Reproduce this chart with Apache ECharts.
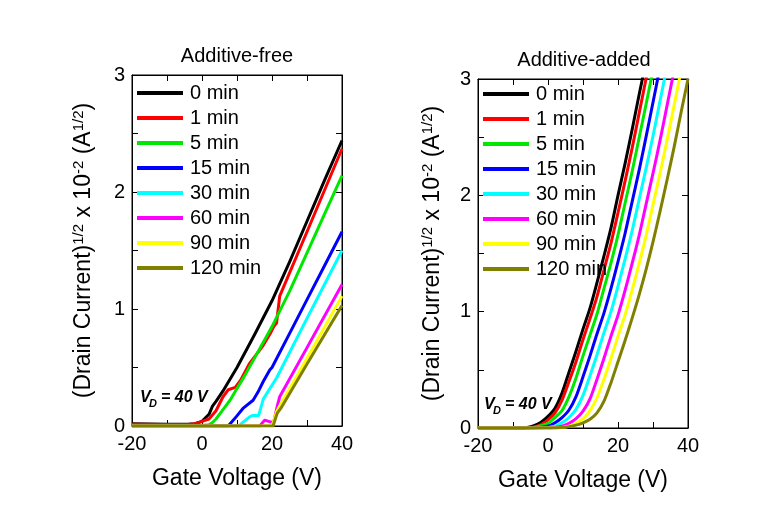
<!DOCTYPE html>
<html>
<head>
<meta charset="utf-8">
<script src="https://cdn.jsdelivr.net/npm/echarts@6/dist/echarts.min.js"></script>
<style>
html,body{margin:0;padding:0;background:#fff;}
#chart{width:778px;height:517px;}
</style>
</head>
<body>
<div id="chart"></div>
<script>
// ---------- data ----------
const seriesNames = ['0 min', '1 min', '5 min', '15 min', '30 min', '60 min', '90 min', '120 min'];
const panelTitles = ['Additive-free', 'Additive-added'];
const xTicks = { min: -20, max: 40, step: 20 };
const yTicks = { min: 0, max: 3, step: 1 };

// Additive-free (left panel): gate voltage (V) and sqrt drain current
const freeX_0 = [-20, -10, -4, -2, 0, 1, 2, 3, 4, 6, 8, 10, 15, 20, 25, 30, 35, 40];
const freeY_0 = [0.02, 0.015, 0.015, 0.02, 0.04, 0.07, 0.1, 0.17, 0.21, 0.3, 0.4, 0.5, 0.78, 1.07, 1.4, 1.75, 2.1, 2.44];
const freeX_1 = [-20, -10, -4, -2, 0, 2, 4, 6, 7.5, 9.5, 11, 13.5, 15.5, 17.5, 19.5, 20.5, 21.3, 22.2, 30, 40];
const freeY_1 = [0.015, 0.012, 0.012, 0.02, 0.04, 0.06, 0.13, 0.25, 0.31, 0.33, 0.39, 0.53, 0.61, 0.69, 0.79, 0.85, 0.88, 1.11, 1.66, 2.37];
const freeX_5 = [-20, 0, 2, 3, 4, 6, 8, 10, 12, 15, 20, 25, 30, 35, 40];
const freeY_5 = [0.005, 0.005, 0.01, 0.03, 0.06, 0.14, 0.22, 0.32, 0.42, 0.58, 0.85, 1.15, 1.48, 1.81, 2.14];
const freeX_15 = [-20, 7.5, 9.8, 11.7, 14.6, 16, 17.5, 19.4, 20, 25, 30, 35, 40];
const freeY_15 = [0, 0, 0.08, 0.15, 0.22, 0.29, 0.38, 0.48, 0.5, 0.79, 1.08, 1.37, 1.66];
const freeX_30 = [-20, 10.5, 12, 13.7, 14.5, 16.2, 17.5, 19.4, 21.3, 30, 40];
const freeY_30 = [0, 0, 0.04, 0.08, 0.09, 0.09, 0.23, 0.32, 0.41, 0.92, 1.5];
const freeX_60 = [-20, 16.5, 17.9, 19.5, 20.5, 21.5, 22.2, 30, 40];
const freeY_60 = [0, 0, 0.05, 0.035, 0.035, 0.17, 0.25, 0.67, 1.21];
const freeX_90 = [-20, 20, 21.3, 22, 30, 40];
const freeY_90 = [0, 0, 0.12, 0.16, 0.58, 1.11];
const freeX_120 = [-20, 20.3, 21.5, 22.5, 30, 40];
const freeY_120 = [0, 0, 0.11, 0.15, 0.53, 1.03];

// Additive-added (right panel)
const addedX = [-20, -16, -12, -8, -6, -4, -2, 0, 2, 4, 6, 8, 10, 12, 14, 16, 18, 20, 22, 24, 26, 28, 30, 32, 34, 36, 38, 40];
const addedY_0 = [0, 0, 0, 0, 0.005, 0.02, 0.05, 0.1, 0.17, 0.3, 0.48, 0.66, 0.85, 1.03, 1.25, 1.48, 1.72, 2.0, 2.27, 2.56, 2.86, 3.15, null, null, null, null, null, null];
const addedY_1 = [0, 0, 0, 0, 0.002, 0.01, 0.03, 0.07, 0.13, 0.24, 0.4, 0.57, 0.76, 0.94, 1.13, 1.36, 1.59, 1.85, 2.12, 2.4, 2.7, 3.0, 3.3, null, null, null, null, null];
const addedY_5 = [0, 0, 0, 0, 0, 0.005, 0.02, 0.04, 0.09, 0.15, 0.27, 0.43, 0.62, 0.8, 0.98, 1.2, 1.42, 1.66, 1.93, 2.2, 2.49, 2.78, 3.08, null, null, null, null, null];
const addedY_15 = [0, 0, 0, 0, 0, 0, 0.004, 0.015, 0.045, 0.09, 0.155, 0.27, 0.44, 0.62, 0.81, 0.99, 1.2, 1.43, 1.67, 1.94, 2.21, 2.5, 2.8, 3.1, null, null, null, null];
const addedY_30 = [0, 0, 0, 0, 0, 0, 0, 0.004, 0.015, 0.045, 0.09, 0.16, 0.28, 0.45, 0.63, 0.82, 1.0, 1.22, 1.45, 1.69, 1.96, 2.23, 2.51, 2.81, 3.11, null, null, null];
const addedY_60 = [0, 0, 0, 0, 0, 0, 0, 0, 0.005, 0.015, 0.04, 0.08, 0.145, 0.25, 0.42, 0.6, 0.79, 0.97, 1.18, 1.41, 1.65, 1.92, 2.19, 2.47, 2.77, 3.07, null, null];
const addedY_90 = [0, 0, 0, 0, 0, 0, 0, 0, 0, 0.005, 0.015, 0.04, 0.08, 0.15, 0.26, 0.42, 0.6, 0.79, 0.97, 1.18, 1.41, 1.65, 1.92, 2.19, 2.47, 2.77, 3.07, null];
const addedY_120 = [0, 0, 0, 0, 0, 0, 0, 0, 0, 0.004, 0.012, 0.025, 0.045, 0.075, 0.13, 0.23, 0.39, 0.57, 0.75, 0.94, 1.14, 1.36, 1.6, 1.86, 2.13, 2.41, 2.71, 3.0];

// ---------- styling ----------
const lineColors = ['#000000', '#ff0000', '#00e800', '#0000ff', '#00ffff', '#ff00ff', '#ffff00', '#808000'];
const FONT = "'Liberation Sans', Arial, sans-serif";

const freeXs = [freeX_0, freeX_1, freeX_5, freeX_15, freeX_30, freeX_60, freeX_90, freeX_120];
const freeYs = [freeY_0, freeY_1, freeY_5, freeY_15, freeY_30, freeY_60, freeY_90, freeY_120];
const addedYs = [addedY_0, addedY_1, addedY_5, addedY_15, addedY_30, addedY_60, addedY_90, addedY_120];

function zip(xs, ys) { return xs.map((x, i) => [x, ys[i]]); }

const grids = [
  { left: 132, top: 75, width: 210, height: 351 },
  { left: 478, top: 79, width: 210, height: 349 }
];

function makeX(gi, pos, main) {
  return {
    type: 'value', gridIndex: gi, position: pos,
    min: xTicks.min, max: xTicks.max, interval: xTicks.step,
    axisLine: { show: true, onZero: false, lineStyle: { color: '#000', width: 1 } },
    axisTick: { show: true, inside: true, length: 6, lineStyle: { color: '#000' } },
    minorTick: { show: true, splitNumber: 2, length: 6, lineStyle: { color: '#000' } },
    splitLine: { show: false }, minorSplitLine: { show: false },
    axisLabel: { show: main, fontSize: 20, fontFamily: FONT, color: '#000', margin: 8 },
    name: main ? 'Gate Voltage (V)' : '',
    nameLocation: 'middle', nameGap: 41, nameMoveOverlap: false,
    nameTextStyle: { fontSize: 23, fontFamily: FONT, color: '#000' }
  };
}
function makeY(gi, pos, main, gap) {
  return {
    type: 'value', gridIndex: gi, position: pos,
    min: yTicks.min, max: yTicks.max, interval: yTicks.step,
    axisLine: { show: true, onZero: false, lineStyle: { color: '#000', width: 1 } },
    axisTick: { show: true, inside: true, length: 6, lineStyle: { color: '#000' } },
    minorTick: { show: true, splitNumber: 2, length: 6, lineStyle: { color: '#000' } },
    splitLine: { show: false }, minorSplitLine: { show: false },
    axisLabel: { show: main, fontSize: 20, fontFamily: FONT, color: '#000', margin: 7 },
    name: main ? '{m|(Drain Current)}{s|1/2}{m| x 10}{s|-2}{m| (A}{s|1/2}{m|)}' : '',
    nameLocation: 'middle', nameRotate: 90, nameGap: gap, nameMoveOverlap: false,
    nameTextStyle: {
      fontSize: 23, fontFamily: FONT, color: '#000',
      rich: {
        m: { fontSize: 23, fontFamily: FONT, color: '#000', lineHeight: 26 },
        s: { fontSize: 15, fontFamily: FONT, color: '#000', lineHeight: 16, verticalAlign: 'top' }
      }
    }
  };
}

const series = [];
seriesNames.forEach((n, i) => {
  series.push({
    name: n, type: 'line', xAxisIndex: 0, yAxisIndex: 0,
    data: zip(freeXs[i], freeYs[i]), showSymbol: false, symbol: 'none',
    lineStyle: { color: lineColors[i], width: 3, join: 'round' }, itemStyle: { color: lineColors[i] },
    animation: false, z: 2 + i
  });
});
seriesNames.forEach((n, i) => {
  series.push({
    name: n, type: 'line', xAxisIndex: 2, yAxisIndex: 2,
    data: zip(addedX, addedYs[i]), showSymbol: false, symbol: 'none',
    smooth: 0.25, connectNulls: false,
    lineStyle: { color: lineColors[i], width: 3, join: 'round' }, itemStyle: { color: lineColors[i] },
    animation: false, z: 2 + i
  });
});

function makeLegend(left, top) {
  return {
    data: seriesNames, orient: 'vertical', left: left, top: top,
    icon: 'rect', itemWidth: 46, itemHeight: 4, itemGap: 5, padding: 0,
    selectedMode: false,
    textStyle: { fontSize: 20, fontFamily: FONT, color: '#000', lineHeight: 20, padding: [0, 0, 0, 2] }
  };
}

function vdText(x, y) {
  return [
    { type: 'text', left: x, top: y - 9, style: { text: 'V', font: "italic bold 16px 'Liberation Sans', Arial, sans-serif", fill: '#000' } },
    { type: 'text', left: x + 9, top: y - 1, style: { text: 'D', font: "italic bold 11px 'Liberation Sans', Arial, sans-serif", fill: '#000' } },
    { type: 'text', left: x + 21, top: y - 9, style: { text: '= 40 V', font: "italic bold 16px 'Liberation Sans', Arial, sans-serif", fill: '#000' } }
  ];
}

const option = {
  backgroundColor: '#fff',
  animation: false,
  title: [
    { text: panelTitles[0], left: 237, top: 46, textAlign: 'center', padding: 0, textStyle: { fontSize: 20, fontWeight: 'normal', fontFamily: FONT, color: '#000' } },
    { text: panelTitles[1], left: 584, top: 50, textAlign: 'center', padding: 0, textStyle: { fontSize: 20, fontWeight: 'normal', fontFamily: FONT, color: '#000' } }
  ],
  grid: grids.map(g => Object.assign({ show: true, borderColor: '#000', borderWidth: 1, backgroundColor: 'transparent', containLabel: false }, g)),
  xAxis: [makeX(0, 'bottom', true), makeX(0, 'top', false), makeX(1, 'bottom', true), makeX(1, 'top', false)],
  yAxis: [makeY(0, 'left', true, 35), makeY(0, 'right', false, 0), makeY(1, 'left', true, 32), makeY(1, 'right', false, 0)],
  legend: [makeLegend(137, 83), makeLegend(483, 84)],
  graphic: vdText(140, 399).concat(vdText(484, 406)),
  series: series
};

const chart = echarts.init(document.getElementById('chart'), null, { renderer: 'canvas' });
chart.setOption(option);
</script>
</body>
</html>
